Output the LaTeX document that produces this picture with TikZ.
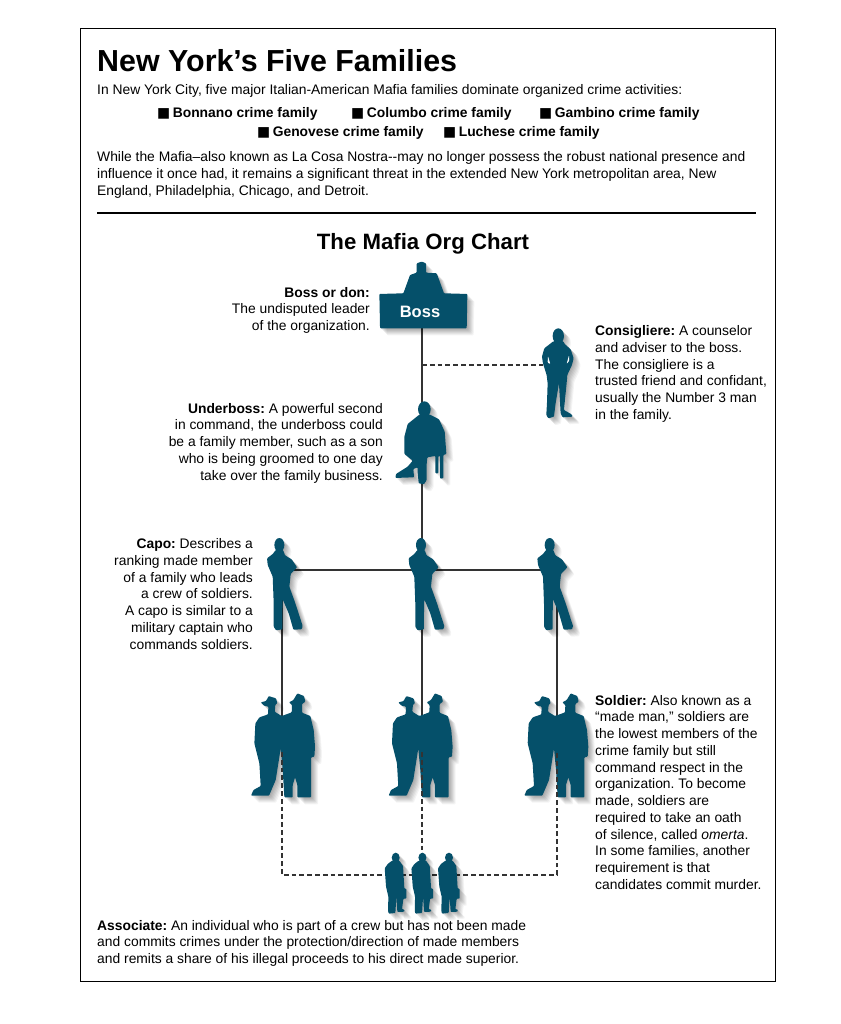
\documentclass[tikz,border=0pt]{standalone}
\usepackage{fontspec}
\setmainfont{Liberation Sans}
\newfontfamily\squarefont{DejaVu Sans}
\definecolor{figteal}{HTML}{05506A}
\definecolor{linegray}{HTML}{333333}
\newcommand{\famsquare}{{\squarefont\char"25A0}\kern2.5pt}
\tikzset{
  figure/.style={fill=figteal,
    preaction={fill=black,opacity=.045,transform canvas={shift={(7pt,-7pt)}}},
    preaction={fill=black,opacity=.05,transform canvas={shift={(6pt,-6pt)}}},
    preaction={fill=black,opacity=.055,transform canvas={shift={(5pt,-5pt)}}},
    preaction={fill=black,opacity=.06,transform canvas={shift={(4pt,-4pt)}}},
    preaction={fill=black,opacity=.06,transform canvas={shift={(3pt,-3pt)}}},
    preaction={fill=black,opacity=.06,transform canvas={shift={(2pt,-2pt)}}},
    preaction={fill=black,opacity=.06,transform canvas={shift={(1pt,-1pt)}}}},
  zoomgrid/.style={x=.3333pt,y=-.3333pt,rounded corners=.8pt},
  solidlink/.style={draw=linegray,line width=1.6pt},
  dashlink/.style={draw=linegray,line width=1.6pt,dash pattern=on 4.8pt off 3pt},
  txt/.style={inner sep=0pt,font=\fontsize{13.85}{16.75}\selectfont},
  leftblock/.style={txt,align=left,anchor=north west},
  rightblock/.style={txt,align=right,anchor=north east},
  famname/.style={inner sep=0pt,anchor=west,font=\fontsize{13.85}{16}\selectfont\bfseries},
  bossfig/.pic={
    \begin{scope}[zoomgrid,shift={(-155,-235)}]
      \path[figure] (28,132) -- (100,130) -- (120,75) -- (140,68) -- (140,40) -- (155,35) -- (168,40) -- (168,68) -- (200,70) -- (222,130) -- (292,132) -- (290,235) -- (30,235) -- cycle;
    \end{scope}
  },
  consfig/.pic={
    \begin{scope}[zoomgrid,shift={(-520,-345)}]
      \path[figure] (565,258) ellipse [x radius=17,y radius=23]
        (550,274) -- (580,274) -- (584,282) -- (602,298) -- (611,325) -- (606,345) -- (592,375) -- (590,400) -- (586,440) -- (582,480) -- (605,493) -- (608,500) -- (578,502) -- (572,490) -- (567,400) -- (557,460) -- (552,500) -- (535,505) -- (529,495) -- (531,460) -- (533,400) -- (530,375) -- (519,340) -- (516,320) -- (523,295) -- cycle;
      \fill[white] (534,318) -- (541,342) -- (533,338) -- cycle (597,316) -- (590,342) -- (598,332) -- cycle;
    \end{scope}
  },
  underfig/.pic={
    \begin{scope}[zoomgrid,shift={(-155,-478)}]
      \path[figure] (163,478) ellipse [x radius=19,y radius=24]
        (148,494) -- (180,494) -- (207,508) -- (224,545) -- (229,612) -- (220,615) -- (220,685) -- (210,686) -- (210,618) -- (205,618) -- (205,670) -- (196,670) -- (196,618) -- (172,622) -- (170,640) -- (170,690) -- (162,703) -- (146,700) -- (143,670) -- (143,652) -- (130,657) -- (132,682) -- (76,684) -- (78,672) -- (113,650) -- (128,632) -- (103,612) -- (103,560) -- (113,522) -- cycle;
    \end{scope}
  },
  capofig/.pic={
    \begin{scope}[zoomgrid,shift={(-125,-120)}]
      \path[figure] (118,45) ellipse [x radius=15,y radius=21]
        (107,60) -- (129,60) -- (135,76) -- (155,88) -- (171,112) -- (152,132) -- (148,170) -- (166,220) -- (188,288) -- (185,298) -- (160,299) -- (146,250) -- (128,208) -- (127,250) -- (127,298) -- (108,301) -- (101,290) -- (101,220) -- (98,140) -- (83,105) -- (81,85) -- (98,72) -- cycle;
    \end{scope}
  },
  soldierfig/.pic={
    \begin{scope}[zoomgrid,shift={(-125,-560)}]
      \path[figure] (62,517) -- (78,513) -- (86,498) -- (108,505) -- (112,520) -- (106,524) -- (104,545) -- (125,558) -- (155,547) -- (156,525) -- (147,517) -- (160,510) -- (172,490) -- (192,498) -- (196,515) -- (186,522) -- (186,548) -- (211,558) -- (221,600) -- (225,650) -- (223,680) -- (213,682) -- (213,802) -- (172,802) -- (172,765) -- (165,742) -- (158,765) -- (158,802) -- (133,802) -- (128,720) -- (122,655) -- (107,750) -- (87,797) -- (33,797) -- (40,780) -- (62,768) -- (58,700) -- (43,640) -- (46,580) -- (58,562) -- (84,553) -- (85,530) -- (72,527) -- cycle;
    \end{scope}
  },
  assocfig/.pic={
    \begin{scope}[zoomgrid,shift={(-377,-252)}]
      \path[figure] (377,203) ellipse [x radius=12,y radius=15]
        (366,212) -- (388,212) -- (399,228) -- (403,296) -- (409,296) -- (409,326) -- (400,326) -- (396,358) -- (403,358) -- (403,365) -- (382,366) -- (379,320) -- (376,369) -- (356,371) -- (354,362) -- (355,320) -- (348,290) -- (344,235) -- (353,222) -- cycle;
    \end{scope}
  },
}
\begin{document}
\frenchspacing
\begin{tikzpicture}[x=1pt,y=-1pt]
  \useasboundingbox (0,0) rectangle (840,1024);
  \draw[black,line width=1pt] (80,29) rectangle (775,981);
  \coordinate (ruleL) at (97,213);
  \coordinate (ruleR) at (756,213);
  \draw[black,line width=1.3pt] (ruleL) -- (ruleR);

  \node[inner sep=0pt,anchor=west,font=\fontsize{30.4}{32}\selectfont\bfseries] (title) at (97,61) {New York’s Five Families};
  \node[txt,anchor=west] (intro) at (97,91) {In New York City, five major Italian-American Mafia families dominate organized crime activities:};
  \node[famname] (bonnano) at (157,114) {\famsquare Bonnano crime family};
  \node[famname] (columbo) at (351,114) {\famsquare Columbo crime family};
  \node[famname] (gambino) at (539,114) {\famsquare Gambino crime family};
  \node[famname] (genovese) at (257,132.5) {\famsquare Genovese crime family};
  \node[famname] (luchese) at (443,132.5) {\famsquare Luchese crime family};
  \node[leftblock] (para) at (97,151.5) {While the Mafia–also known as La Cosa Nostra{-}{-}may no longer possess the robust national presence and\\influence it once had, it remains a significant threat in the extended New York metropolitan area, New\\England, Philadelphia, Chicago, and Detroit.};
  \node[inner sep=0pt,font=\fontsize{22.2}{24}\selectfont\bfseries] (charttitle) at (423,244) {The Mafia Org Chart};

  \coordinate (boss) at (422,328);
  \coordinate (tapA) at (422,365);
  \coordinate (cons) at (543,365);
  \coordinate (capoA) at (282,570);
  \coordinate (capoB) at (422,570);
  \coordinate (capoC) at (557,570);
  \coordinate (soldierA) at (282,716);
  \coordinate (soldierB) at (422,716);
  \coordinate (soldierC) at (557,716);
  \coordinate (crewA) at (282,752);
  \coordinate (crewB) at (422,752);
  \coordinate (crewC) at (557,752);
  \coordinate (baseA) at (282,875);
  \coordinate (baseB) at (422,875);
  \coordinate (baseC) at (557,875);

  \draw[solidlink] (boss) -- (capoB);
  \draw[solidlink] (capoA) -- (capoC);
  \draw[solidlink] (capoA) -- (soldierA);
  \draw[solidlink] (capoB) -- (soldierB);
  \draw[solidlink] (capoC) -- (soldierC);
  \draw[dashlink] (tapA) -- (cons);

  \pic at (421.7,328.3) {bossfig};
  \pic at (543.3,365) {consfig};
  \pic at (421.7,409.3) {underfig};
  \pic at (281.7,570) {capofig};
  \pic at (423.3,570) {capofig};
  \pic at (552,570) {capofig};
  \pic at (281.7,716.7) {soldierfig};
  \pic at (419.3,716.7) {soldierfig};
  \pic at (555,716.7) {soldierfig};

  \draw[dashlink] (crewA) -- (baseA) -- (baseC) -- (crewC);
  \draw[dashlink] (crewB) -- (baseB);

  \pic at (395.7,874) {assocfig};
  \pic at (422.4,874) {assocfig};
  \pic at (449,874) {assocfig};

  \node[inner sep=0pt,text=white,font=\fontsize{16.5}{18}\selectfont\bfseries] (bosslabel) at (420,312) {Boss};
  \node[rightblock] (bosstext) at (370,287) {\textbf{Boss or don:}\\The undisputed leader\\of the organization.};
  \node[leftblock] (constext) at (595,325.5) {\textbf{Consigliere:} A counselor\\and adviser to the boss.\\The consigliere is a\\trusted friend and confidant,\\usually the Number 3 man\\in the family.};
  \node[rightblock] (undertext) at (383,403) {\textbf{Underboss:} A powerful second\\in command, the underboss could\\be a family member, such as a son\\who is being groomed to one day\\take over the family business.};
  \node[rightblock] (capotext) at (253,538.5) {\textbf{Capo:} Describes a\\ranking made member\\of a family who leads\\a crew of soldiers.\\A capo is similar to a\\military captain who\\commands soldiers.};
  \node[leftblock] (soldiertext) at (595,695) {\textbf{Soldier:} Also known as a\\“made man,” soldiers are\\the lowest members of the\\crime family but still\\command respect in the\\organization. To become\\made, soldiers are\\required to take an oath\\of silence, called \textit{omerta}.\\In some families, another\\requirement is that\\candidates commit murder.};
  \node[leftblock] (assoctext) at (97,920) {\textbf{Associate:} An individual who is part of a crew but has not been made\\and commits crimes under the protection/direction of made members\\and remits a share of his illegal proceeds to his direct made superior.};
\end{tikzpicture}
\end{document}
